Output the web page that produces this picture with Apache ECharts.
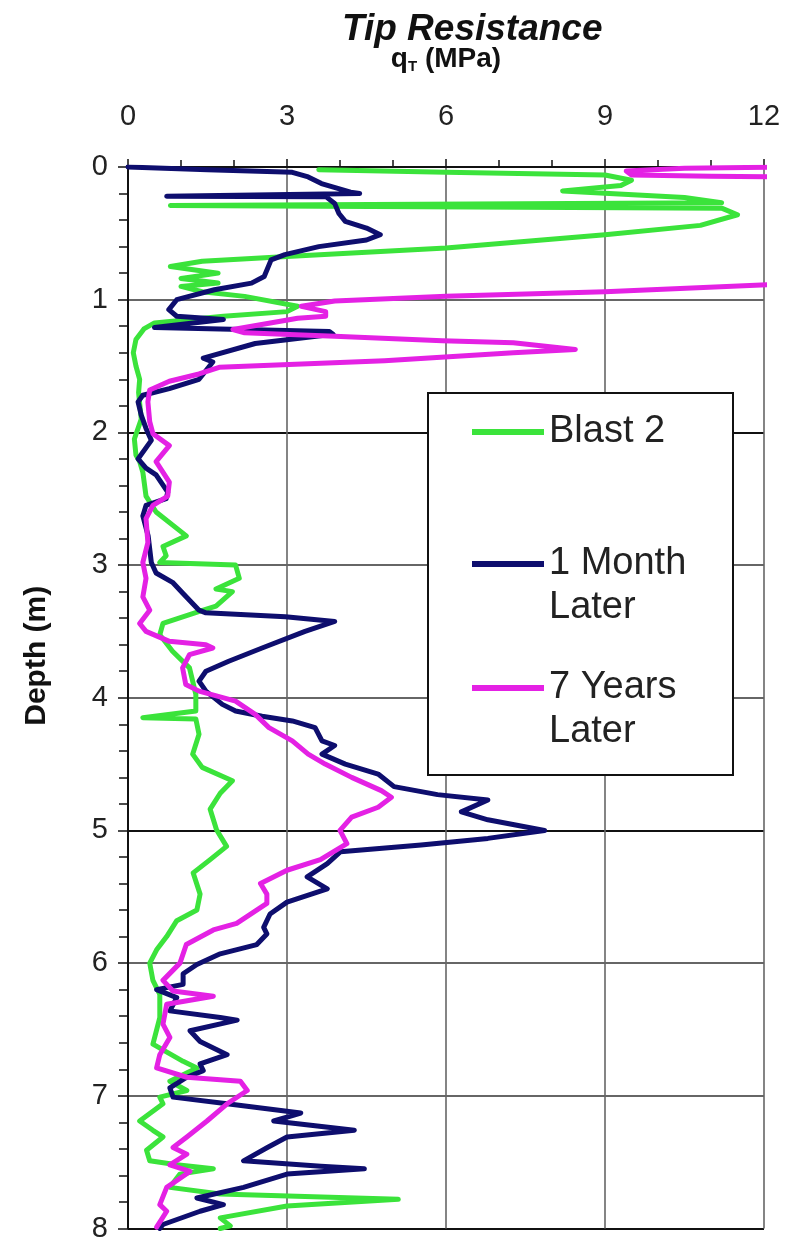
<!DOCTYPE html>
<html>
<head>
<meta charset="utf-8">
<title>Tip Resistance</title>
<script src="https://cdn.jsdelivr.net/npm/echarts@6/dist/echarts.min.js"></script>
<style>
  html, body { margin: 0; padding: 0; background: #fff; }
  #chart { width: 786px; height: 1243px; }
</style>
</head>
<body>
<div id="chart"></div>
<script>
// Cone tip resistance qT (MPa) against depth (m) for three soundings.
const seriesNames = ['Blast 2', '1 Month Later', '7 Years Later'];
// A leading blank line keeps the swatch level with the first text line.
const legendLabels = ['Blast 2', '\n1 Month\nLater', '\n7 Years\nLater'];
const xTicks = [0, 3, 6, 9, 12];
const yTicks = [0, 1, 2, 3, 4, 5, 6, 7, 8];

const blast2Qt = [3.6, 6.0, 9.0, 9.5, 9.3, 8.2, 10.5, 11.2, 0.8, 11.2, 11.5, 10.8, 9.0, 6.0, 3.0, 1.4, 0.8, 1.7, 1.0, 1.7,
  1.0, 1.4, 2.2, 3.2, 3.0, 1.8, 0.5, 0.3, 0.15, 0.1, 0.15, 0.22, 0.2, 0.25, 0.12, 0.15, 0.22, 0.28, 0.34, 0.53,
  1.1, 0.66, 0.72, 0.6, 2.03, 2.1, 1.66, 1.97, 1.66, 1.42, 0.66, 0.6, 0.84, 1.16, 1.28, 1.28, 0.28, 1.28, 1.34, 1.22,
  1.4, 1.97, 1.74, 1.55, 1.67, 1.86, 1.55, 1.23, 1.36, 1.3, 0.92, 0.73, 0.54, 0.41, 0.47, 0.6, 0.6, 0.47, 1.04, 1.3,
  0.79, 1.11, 0.6, 0.66, 0.22, 0.47, 0.66, 0.35, 0.41, 0.92, 1.61, 0.98, 0.79, 1.74, 5.1, 3.0, 1.74, 1.93, 1.74];
const blast2Depth = [0.02, 0.04, 0.06, 0.10, 0.14, 0.18, 0.23, 0.27, 0.29, 0.31, 0.36, 0.44, 0.51, 0.61, 0.675, 0.71, 0.75, 0.80, 0.84, 0.875,
  0.90, 0.94, 0.975, 1.05, 1.09, 1.125, 1.175, 1.22, 1.30, 1.40, 1.50, 1.60, 1.70, 1.90, 2.05, 2.17, 2.22, 2.30, 2.48, 2.60,
  2.78, 2.86, 2.93, 2.98, 3.00, 3.10, 3.18, 3.20, 3.31, 3.34, 3.44, 3.525, 3.65, 3.775, 3.975, 4.10, 4.15, 4.16, 4.275, 4.425,
  4.525, 4.625, 4.72, 4.84, 4.995, 5.12, 5.22, 5.32, 5.48, 5.60, 5.68, 5.80, 5.90, 6.00, 6.13, 6.235, 6.41, 6.61, 6.74, 6.79,
  6.89, 6.96, 7.01, 7.06, 7.19, 7.26, 7.31, 7.41, 7.49, 7.52, 7.55, 7.59, 7.69, 7.74, 7.78, 7.83, 7.92, 7.98, 8.0];

const monthQt = [0, 1.5, 3.1, 3.4, 3.65, 4.2, 4.37, 0.73, 3.74, 3.9, 3.98, 4.1, 4.5, 4.76, 4.5, 3.6, 2.96, 2.7, 2.57, 2.33,
  1.63, 0.92, 0.77, 0.92, 1.8, 0.5, 3.8, 3.87, 2.4, 1.42, 1.6, 1.34, 0.78, 0.28, 0.19, 0.25, 0.34, 0.44, 0.19, 0.34,
  0.53, 0.75, 0.72, 0.34, 0.28, 0.38, 0.44, 0.53, 0.84, 1.03, 1.34, 1.47, 2.97, 3.9, 3.34, 2.53, 1.9, 1.47, 1.34, 1.47,
  1.78, 2.03, 2.53, 3.1, 3.53, 3.66, 3.9, 3.66, 4.1, 4.72, 5.02, 5.84, 6.79, 6.29, 6.79, 7.86, 6.79, 5.53, 4.01, 3.76,
  3.38, 3.76, 3.0, 2.68, 2.56, 2.62, 2.43, 1.74, 1.3, 1.04, 1.04, 0.54, 0.92, 0.79, 1.74, 2.06, 1.17, 1.36, 1.87, 1.36,
  1.42, 1.11, 0.79, 0.85, 1.87, 3.26, 2.75, 4.27, 3.0, 2.63, 2.18, 3.64, 4.46, 3.0, 2.18, 1.3, 1.8, 1.36, 0.66, 0.6];
const monthDepth = [0, 0.02, 0.04, 0.075, 0.125, 0.19, 0.20, 0.22, 0.225, 0.275, 0.35, 0.41, 0.46, 0.51, 0.55, 0.60, 0.66, 0.70, 0.825, 0.875,
  0.925, 1.00, 1.075, 1.125, 1.15, 1.21, 1.24, 1.26, 1.33, 1.44, 1.47, 1.60, 1.67, 1.72, 1.77, 1.87, 1.97, 2.06, 2.20, 2.27,
  2.32, 2.45, 2.50, 2.55, 2.63, 2.78, 2.98, 3.06, 3.13, 3.21, 3.34, 3.36, 3.39, 3.425, 3.50, 3.625, 3.725, 3.80, 3.875, 3.95,
  4.05, 4.10, 4.14, 4.175, 4.225, 4.325, 4.36, 4.425, 4.50, 4.575, 4.67, 4.73, 4.77, 4.86, 4.92, 5.00, 5.06, 5.11, 5.16, 5.25,
  5.35, 5.44, 5.54, 5.63, 5.73, 5.78, 5.86, 5.93, 6.01, 6.08, 6.16, 6.20, 6.26, 6.36, 6.41, 6.43, 6.51, 6.59, 6.69, 6.76,
  6.81, 6.86, 6.94, 7.01, 7.06, 7.13, 7.19, 7.26, 7.31, 7.39, 7.49, 7.53, 7.55, 7.59, 7.69, 7.77, 7.82, 7.87, 7.97, 8.0];

const yearsQt = [12.5, 10.5, 9.4, 9.5, 11.0, 12.5, 15.0, 16.0, 14.0, 12.5, 9.0, 6.0, 3.9, 3.27, 3.73, 3.73, 3.2, 1.98, 2.2, 3.9,
  5.93, 7.27, 8.44, 7.27, 4.84, 1.72, 1.34, 0.78, 0.41, 0.375, 0.41, 0.47, 0.78, 0.53, 0.78, 0.75, 0.47, 0.34, 0.375, 0.28,
  0.34, 0.28, 0.41, 0.22, 0.34, 0.78, 1.47, 1.6, 1.16, 1.03, 1.09, 1.34, 2.03, 2.4, 2.66, 3.1, 3.4, 3.72, 4.22, 4.78,
  4.97, 4.72, 4.22, 4.0, 4.13, 3.63, 3.0, 2.5, 2.62, 2.62, 2.05, 1.61, 1.1, 0.98, 0.66, 0.85, 1.61, 0.73, 0.66, 0.79,
  0.6, 0.54, 1.11, 2.12, 2.25, 1.87, 1.49, 1.11, 0.85, 1.11, 0.79, 1.17, 0.73, 0.6, 0.73, 0.54];
const yearsDepth = [0.0, 0.01, 0.03, 0.06, 0.07, 0.075, 0.2, 0.5, 0.8, 0.88, 0.94, 0.975, 1.01, 1.05, 1.09, 1.125, 1.14, 1.225, 1.25, 1.275,
  1.31, 1.325, 1.375, 1.40, 1.46, 1.51, 1.56, 1.615, 1.68, 1.77, 1.92, 2.01, 2.10, 2.22, 2.375, 2.48, 2.55, 2.65, 2.83, 2.98,
  3.10, 3.24, 3.34, 3.44, 3.50, 3.575, 3.60, 3.625, 3.675, 3.775, 3.90, 3.95, 4.025, 4.125, 4.225, 4.325, 4.425, 4.50, 4.60, 4.70,
  4.75, 4.825, 4.90, 5.00, 5.10, 5.22, 5.30, 5.40, 5.48, 5.55, 5.70, 5.75, 5.86, 6.00, 6.13, 6.21, 6.25, 6.31, 6.46, 6.56,
  6.69, 6.79, 6.86, 6.89, 6.96, 7.06, 7.19, 7.31, 7.39, 7.44, 7.52, 7.57, 7.69, 7.82, 7.87, 7.99];

const colors = ['#3be33b', '#0e0e6e', '#e421e4'];
const FONT = '"Liberation Sans", Arial, sans-serif';

function pairs(qt, depth) {
  return qt.map((q, i) => [q, depth[i]]);
}
const seriesData = [pairs(blast2Qt, blast2Depth), pairs(monthQt, monthDepth), pairs(yearsQt, yearsDepth)];

const chart = echarts.init(document.getElementById('chart'), null, { renderer: 'canvas' });

// One legend per entry, stacked inside a framed box.
const legendTops = [410, 498, 622];
const legends = seriesNames.map((name, i) => ({
  data: [name],
  left: 472,
  top: legendTops[i],
  padding: 0,
  icon: 'rect',
  itemWidth: 72,
  itemHeight: 6,
  selectedMode: false,
  formatter: () => legendLabels[i],
  textStyle: {
    fontFamily: FONT,
    fontSize: 38,
    color: '#222',
    lineHeight: 44
  },
  z: 6
}));

chart.setOption({
  animation: false,
  backgroundColor: '#ffffff',
  title: {
    text: 'Tip Resistance',
    left: 337,
    top: 6,
    textStyle: { fontFamily: FONT, fontSize: 37, fontWeight: 'bold', fontStyle: 'italic', color: '#111' }
  },
  grid: { left: 128, right: 22, top: 167, bottom: 12, show: false },
  legend: legends,
  graphic: [{
    type: 'rect',
    shape: { x: 428, y: 393, width: 305, height: 382 },
    style: { fill: '#fff', stroke: '#111', lineWidth: 2 },
    z: 5
  }],
  xAxis: {
    type: 'value',
    position: 'top',
    min: xTicks[0],
    max: xTicks[xTicks.length - 1],
    interval: 3,
    name: '{q|q}{t|T}{u| (MPa)}',
    nameLocation: 'middle',
    nameGap: 93,
    nameTextStyle: {
      rich: {
        q: { fontFamily: FONT, fontSize: 28, fontWeight: 'bold', color: '#111' },
        t: { fontFamily: FONT, fontSize: 15, fontWeight: 'bold', color: '#111', padding: [14, 0, 0, 0] },
        u: { fontFamily: FONT, fontSize: 28, fontWeight: 'bold', color: '#111' }
      }
    },
    axisLine: { show: true, lineStyle: { color: '#111', width: 2 } },
    axisTick: { show: true, length: 8, lineStyle: { color: '#111', width: 1.5 } },
    minorTick: { show: true, splitNumber: 3, length: 7, lineStyle: { color: '#111', width: 1.5 } },
    axisLabel: { fontFamily: FONT, fontSize: 29, color: '#222', margin: 36 },
    splitLine: { show: true, lineStyle: { color: '#666', width: 1.6 } }
  },
  yAxis: {
    type: 'value',
    inverse: true,
    min: yTicks[0],
    max: yTicks[yTicks.length - 1],
    interval: 1,
    name: 'Depth (m)',
    nameLocation: 'middle',
    nameGap: 76,
    nameTextStyle: { fontFamily: FONT, fontSize: 30, fontWeight: 'bold', color: '#111', padding: [0, 0, 0, 84] },
    axisLine: { show: true, lineStyle: { color: '#111', width: 2 } },
    axisTick: { show: true, length: 10, lineStyle: { color: '#111', width: 1.5 } },
    minorTick: { show: true, splitNumber: 5, length: 9, lineStyle: { color: '#111', width: 1.5 } },
    axisLabel: { fontFamily: FONT, fontSize: 29, color: '#222', margin: 20 },
    splitLine: { show: true, lineStyle: { color: ['#666', '#666', '#111'], width: 1.8 } }
  },
  series: seriesNames.map((name, i) => ({
    name: name,
    type: 'line',
    data: seriesData[i],
    symbol: 'none',
    clip: true,
    color: colors[i],
    lineStyle: { color: colors[i], width: 5, join: 'round', cap: 'round' },
    z: 2 + i * 0.1
  }))
});
</script>
</body>
</html>
